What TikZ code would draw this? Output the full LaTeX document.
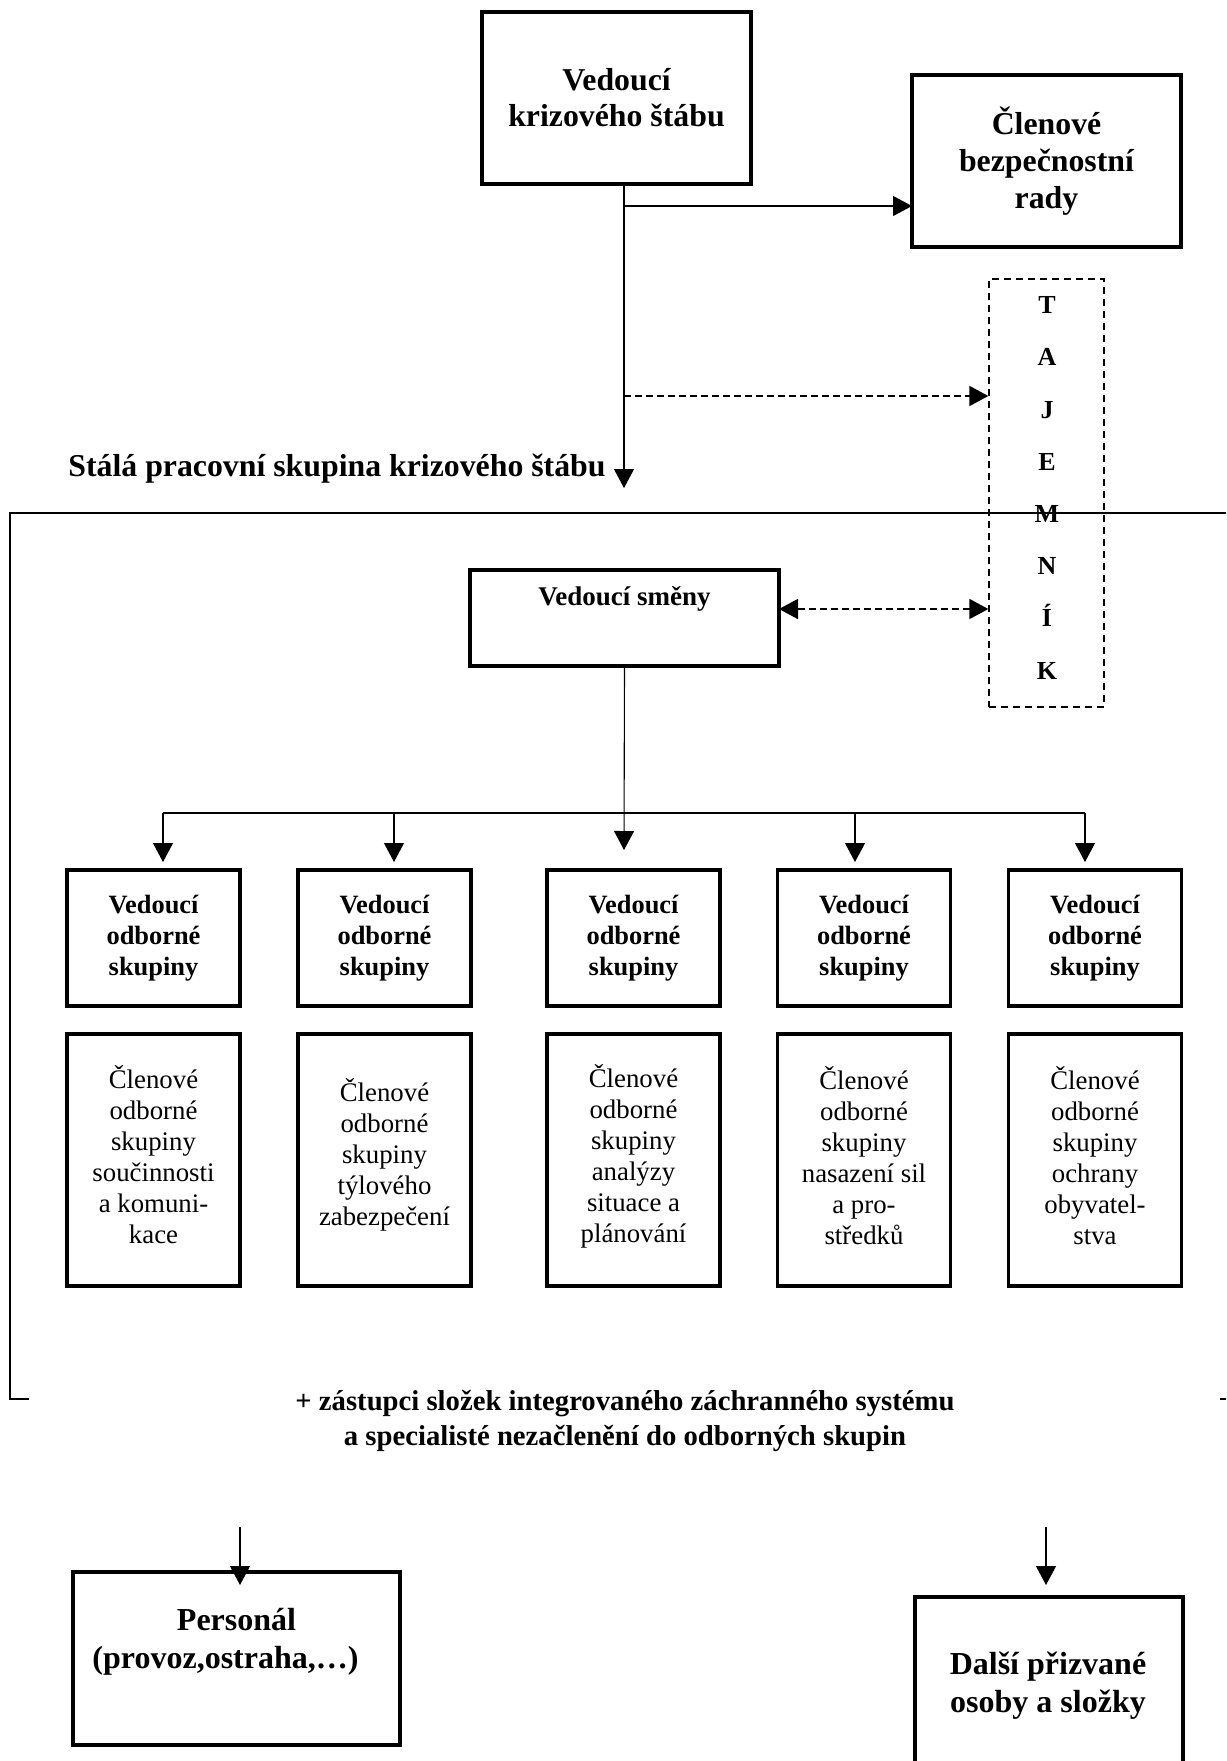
\documentclass[tikz,border=0pt]{standalone}
\usepackage{fontspec}
\setmainfont{Liberation Serif}
\usetikzlibrary{arrows.meta,calc}
\tikzset{
  box/.style={draw, line width=1.7pt, inner sep=0pt, outer sep=0pt, align=center},
  conn/.style={line width=0.55pt},
  arr/.style={conn, -{Triangle[length=9.5pt,width=10pt]}},
  darr/.style={line width=0.8pt, dash pattern=on 3.5pt off 2pt, -{Triangle[length=9.5pt,width=10pt]}},
  dbarr/.style={line width=0.8pt, dash pattern=on 3.5pt off 2pt, {Triangle[length=9.5pt,width=10pt]}-{Triangle[length=9.5pt,width=10pt]}},
  bigf/.style={font=\bfseries\fontsize{15.9}{18}\selectfont},
  vof/.style={font=\bfseries\fontsize{13.2}{15.6}\selectfont},
  clf/.style={font=\fontsize{13.4}{15.5}\selectfont, align=center, inner sep=0pt},
  vobox/.style={box, vof, minimum width=86.5pt, minimum height=68pt},
  clbox/.style={box, minimum width=86.5pt, minimum height=126pt},
}
\begin{document}
\begin{tikzpicture}[x=0.5pt,y=-0.5pt]
\clip (0,0) rectangle (1226,1761);
\fill[white] (0,0) rectangle (1226,1761);

% top boxes
\node[box, bigf, minimum width=134.5pt, minimum height=86pt] (vk) at (616.5,98) {Vedoucí\\krizového štábu};
\node[box, minimum width=134.5pt, minimum height=86pt, font=\bfseries\fontsize{15.9}{18.6}\selectfont] (rady) at (1046.5,161) {Členové\\bezpečnostní\\rady};

% tajemnik
\node[draw, line width=0.65pt, dash pattern=on 3.5pt off 2.5pt, minimum width=57.5pt, minimum height=214pt, inner sep=0pt] (taj) at (1046.5,493) {};
\foreach \l [count=\i from 0] in {T,A,J,E,M,N,Í,K}
  \node[font=\bfseries\fontsize{13}{15}\selectfont, anchor=base, inner sep=0pt] (t\i) at (1047,{313.6+52.2*\i}) {\l};

% main vertical and arrows
\coordinate (vtop) at (624,184);
\coordinate (vend) at (624,488);
\coordinate (j1) at (624,206);
\coordinate (j2) at (624,396);
\draw[arr] (vtop) -- (vend);
\draw[arr] (j1) -- (j1 -| rady.west);
\draw[darr] (j2) -- (j2 -| taj.west);

\node[font=\bfseries\fontsize{15.9}{18}\selectfont, anchor=base east, inner sep=0pt] (stala) at (606,476) {Stálá pracovní skupina krizového štábu};

% bracket
\draw[line width=0.65pt] (1226,513) -- (10,513) -- (10,1399) -- (29,1399);
\draw[line width=0.65pt] (1220,1399) -- (1226,1399);

% vedouci smeny
\node[box, minimum width=154.5pt, minimum height=48pt] (vs) at (624.5,618) {};
\node[font=\bfseries\fontsize{13.5}{15}\selectfont, inner sep=0pt] (vstext) at (624.5,599) {Vedoucí směny};
\coordinate (j3) at (779,609);
\draw[dbarr] (j3) -- (j3 -| taj.west);

% branch
\coordinate (c3) at (624,850);
\draw[arr] (vs.south) -- (c3);
\coordinate (b1) at (163,813);
\coordinate (b2) at (394,813);
\coordinate (b4) at (855,813);
\coordinate (b5) at (1085,813);
\draw[conn] (b1) -- (b5);
\foreach \b in {b1,b2,b4,b5}
  \draw[arr] (\b) -- ($(\b)+(0,49)$);

% vedouci odborne skupiny
\node[vobox] (vo1) at (153.5,938) {Vedoucí\\odborné\\skupiny};
\node[vobox] (vo2) at (384.5,938) {Vedoucí\\odborné\\skupiny};
\node[vobox] (vo3) at (633.5,938) {Vedoucí\\odborné\\skupiny};
\node[vobox] (vo4) at (864,938) {Vedoucí\\odborné\\skupiny};
\node[vobox] (vo5) at (1095,938) {Vedoucí\\odborné\\skupiny};

% clenove
\node[clbox] (cl1) at (153.5,1160) {};
\node[clbox] (cl2) at (384.5,1160) {};
\node[clbox] (cl3) at (633.5,1160) {};
\node[clbox] (cl4) at (864,1160) {};
\node[clbox] (cl5) at (1095,1160) {};
\node[clf] (ct1) at (153.5,1155) {Členové\\odborné\\skupiny\\součinnosti\\a komuni-\\kace};
\node[clf] (ct2) at (384.5,1155) {Členové\\odborné\\skupiny\\týlového\\zabezpečení};
\node[clf] (ct3) at (633.5,1156) {Členové\\odborné\\skupiny\\analýzy\\situace a\\plánování};
\node[clf] (ct4) at (864,1156) {Členové\\odborné\\skupiny\\nasazení sil\\a pro-\\středků};
\node[clf] (ct5) at (1095,1156) {Členové\\odborné\\skupiny\\ochrany\\obyvatel-\\stva};

% bottom text
\node[font=\bfseries\fontsize{14.35}{17.5}\selectfont, align=center, inner sep=0pt] (zast) at (625,1421) {+ zástupci složek integrovaného záchranného systému\\a specialisté nezačlenění do odborných skupin};

% bottom boxes
\node[box, minimum width=163.5pt, minimum height=86.5pt] (pers) at (236.5,1658.5) {};
\node[font=\bfseries\fontsize{16}{19}\selectfont, align=center, inner sep=0pt] (perstext) at (236.5,1642) {Personál\\\makebox[0pt]{(provoz,ostraha,…)\kern11pt}};
\coordinate (pa) at (240,1527);
\coordinate (pe) at (240,1585);
\draw[arr] (pa) -- (pe);

\draw[line width=1.7pt] (915,1800) -- (915,1597) -- (1183,1597) -- (1183,1800);
\node[font=\bfseries\fontsize{16}{19}\selectfont, align=center, inner sep=0pt] (dalsi) at (1048,1686) {Další přizvané\\osoby a složky};
\coordinate (da) at (1046,1527);
\coordinate (de) at (1046,1585);
\draw[arr] (da) -- (de);
\end{tikzpicture}
\end{document}
